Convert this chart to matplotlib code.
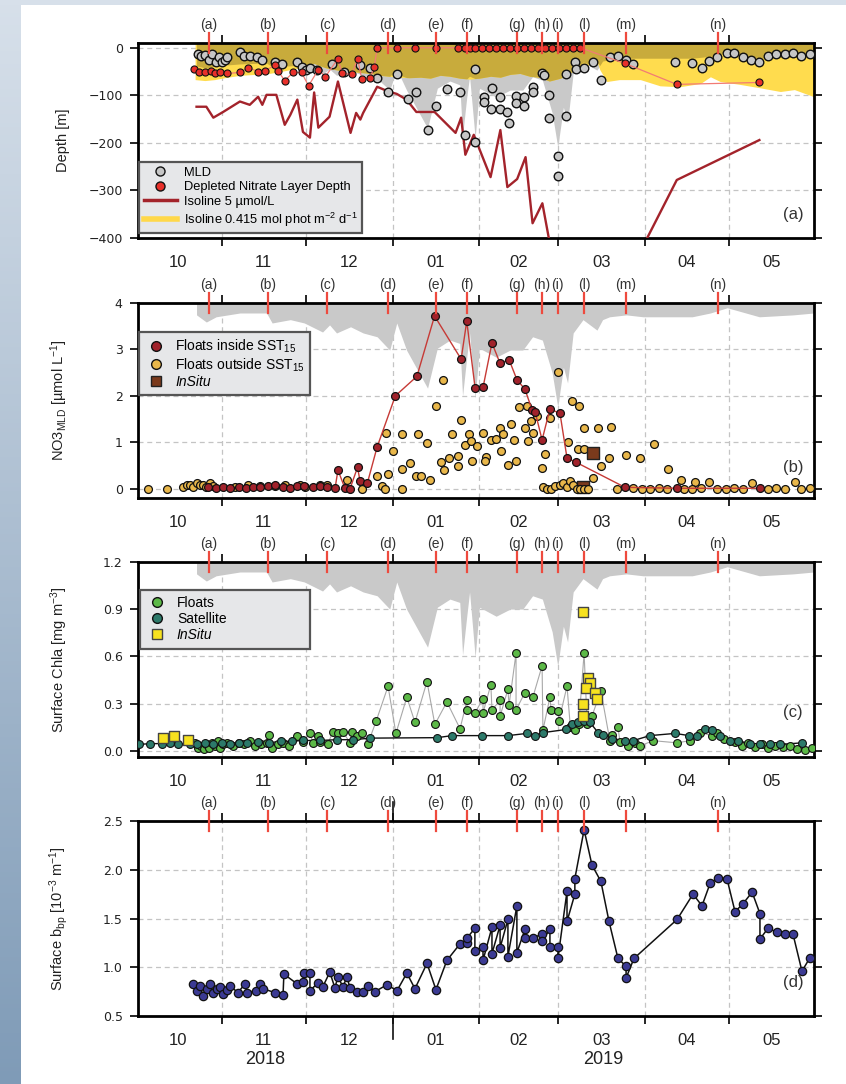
import numpy as np
import matplotlib
matplotlib.use('Agg')
import matplotlib.pyplot as plt
import matplotlib.dates as mdates
from matplotlib.lines import Line2D
from matplotlib.colors import LinearSegmentedColormap
import datetime as dt

BASE = dt.datetime(2018, 10, 1)
B0 = mdates.date2num(BASE)

def X(days):
    return B0 + np.asarray(days, dtype=float)

# ---------------- events ----------------
event_labels = ['(a)', '(b)', '(c)', '(d)', '(e)', '(f)', '(g)', '(h)', '(i)', '(l)', '(m)', '(n)']
event_days = [26.4, 47.5, 68.6, 90.4, 107.5, 118.6, 136.4, 145.4, 151, 160.4, 175.4, 208.2]

month_labels = ['10', '11', '12', '01', '02', '03', '04', '05']
year_labels = ['2018', '2019']

# ---------------- MLD envelope (grey shading) ----------------
env_day = [22, 25.5, 29, 37.5, 47, 49, 55.5, 60.5, 67, 69.5, 72, 77, 81.5, 86.5, 91, 93.5, 97,
           104.5, 108, 112.5, 116, 117, 118.5, 119.5, 121.5, 123, 129, 134, 138.5, 142, 145.5,
           149, 151, 153, 154.5, 156.5, 160, 165, 167, 169.5, 175.5, 181.5, 199, 205.5, 211.5,
           223, 235, 242.5]
env_depth = [-15, -30, -19, -11, -11, -32, -25, -32, -51, -36, -53, -40, -53, -61, -89, -32, -89,
             -169, -85, -68, -75, -185, -104, -53, -190, -85, -104, -89, -89, -61, -68,
             -137, -209, -125, -158, -53, -25, -47, -25, -19, -15, -19, -19, -11, 0,
             -19, -15, -11]
# grey shading as drawn in panel (a)
env_a_depth = [-38, -43, -38, -34, -32, -40, -38, -36, -55, -45, -58, -48, -58, -65, -89, -45, -89,
               -169, -85, -70, -78, -185, -104, -60, -190, -85, -104, -89, -89, -61, -68,
               -137, -209, -125, -158, -53, -30, -47, -28, -25, -22, -22, -22, -18, -10,
               -22, -20, -18]

# ---------------- panel (a) ----------------
isolume_day = [21.5, 25, 28.5, 32, 37.5, 43, 48, 52, 55.5, 59, 60.5, 64, 68, 71.5, 75, 80.5, 84,
               87.5, 91, 94.5, 98, 102, 105.5, 109, 112.5, 116, 119.5, 123, 127, 130.5, 134,
               137.5, 141, 144.5, 148, 152, 155.5, 159, 162.5, 164.5, 166, 168.5, 173, 180.5,
               187.5, 194.5, 202, 205.5, 209, 216, 223, 230.5, 235.5, 242.5]
isolume_depth = [-67, -69, -67, -63, -58, -56, -54, -50, -46, -42, -37, -33, -42, -46, -50, -52, -54,
                 -58, -60, -62, -63, -62, -64, -58, -60, -64, -66, -64, -60, -62, -56,
                 -54, -60, -62, -70, -64, -52, -42, -35, -20, -46, -71, -67, -67,
                 -80, -82, -75, -61, -71, -77, -84, -92, -88, -103]

mld_day = [22.5, 23.5, 25, 26.5, 27.5, 29, 30, 31, 32, 33, 37.5, 39, 41, 43.5, 45.5, 50, 52.5,
           58, 59.5, 61, 62.5, 65, 70.5, 74.5, 80.5, 84, 86.5, 90.5, 93.5, 97.5, 100.5, 104.5,
           107.5, 111.5, 116, 118, 121.5, 121.5, 124.5, 124.5, 127, 127.5, 130.5, 130.5, 133,
           133.5, 136, 136, 139, 139, 142, 142, 145.5, 146, 148, 148, 151, 151, 154, 154, 157,
           157.5, 160.5, 163.5, 166.5, 169.5, 172.5, 175.5, 178, 193, 199, 202.5, 205, 208,
           211.5, 214, 217, 220, 223, 226, 229, 232, 235, 238, 241]
mld_depth = [-14, -18, -16, -25, -14, -29, -20, -29, -25, -20, -8, -18, -18, -20, -25, -29, -35,
             -31, -40, -46, -42, -46, -35, -50, -37, -42, -63, -92, -56, -107, -94, -173,
             -122, -86, -92, -183, -44, -198, -103, -113, -128, -84, -103, -128, -135,
             -158, -101, -116, -103, -122, -82, -92, -54, -58, -99, -147, -227, -270, -143, -56, -31,
             -44, -42, -31, -67, -20, -18, -25, -35, -31, -33, -42, -27, -20,
             -10, -12, -20, -25, -29, -18, -14, -14, -12, -18, -14]

nit_day = [21, 23, 25, 27, 28.5, 30.5, 33, 37.5, 40.5, 44, 46.5, 50, 51, 53.5, 56.5, 59.5, 62,
           65.5, 68, 72.5, 74, 77.5, 79.5, 81, 84, 85.5, 86.5, 93.5, 100, 107.5, 115.5, 118,
           119.5, 121.5, 124, 126.5, 129, 131.5, 134, 136.5, 139, 141.5, 144, 146.5, 149,
           151.5, 154, 156.5, 159, 175, 193.5, 223]
nit_depth = [-44, -50, -52, -48, -54, -50, -54, -52, -42, -50, -48, -37, -48, -69, -52, -52, -80,
             -46, -61, -23, -54, -56, -23, -65, -63, -40, 0, 0, 0, 0, 0, 0,
             0, 0, 0, 0, 0, 0, 0, 0, 0, 0, 0, 0, 0,
             0, 0, 0, 0, -33, -77, -73]

iso5_day = [22, 25.5, 28, 31.5, 37.5, 41, 44, 45.5, 47, 50.5, 53.5, 55.5, 58, 60, 62.5, 64, 65.5,
            69.5, 72.5, 77, 79, 80.5, 81.5, 86.5, 90.5, 93.5, 97, 100.5, 107, 114.5, 116.5, 118,
            121, 127, 130.5, 133, 136.5, 139.5, 142, 145.5, 150, 176, 193.5, 223]
iso5_depth = [-124, -124, -147, -135, -113, -120, -103, -120, -99, -99, -162, -141, -109, -177,
              -189, -94, -168, -145, -71, -179, -137, -151, -137, -82, -92, -97, -109, -135,
              -135, -179, -147, -225, -183, -272, -173, -293, -276, -230, -369, -327, -470,
              -480, -278, -194]

# ---------------- panel (b) ----------------
in_day = [26, 29, 31.5, 34, 37, 39.5, 42, 44.5, 47.5, 50, 53, 55.5, 58, 60.5, 63.5, 66, 68.5,
          71.5, 72.5, 75, 76.8, 79.5, 80.4, 83, 86.5, 93, 100.7, 107, 116.5, 118.5, 121.5,
          124.3, 127.5, 130.4, 133.6, 136.4, 139.3, 141.8, 142.9, 145.4, 148.2, 151.8, 154.3,
          157.5, 175, 193.6, 223.2]
in_val = [0.03, 0.02, 0.03, 0.02, 0.03, 0.02, 0.04, 0.03, 0.05, 0.07, 0.03, 0.02, 0.05, 0.05,
          0.04, 0.05, 0.03, 0.02, 0.40, 0.01, 0.0, 0.46, 0.16, 0.12, 0.90, 2.0, 2.42, 3.72,
          2.79, 3.61, 2.16, 2.18, 3.14, 2.70, 2.78, 2.35, 2.14, 1.70, 1.66, 1.05, 1.72, 1.62,
          0.66, 0.57, 0.03, 0.01, 0.01]

out_day = [4.6, 11.4, 17.1, 18.6, 19.6, 20.7, 22.1, 23.2, 24.3, 25.4, 26.8, 27.9, 35.7, 40.4,
           44.6, 50, 53.6, 58.9, 60.7, 66.1, 68.6, 75.7, 81.1, 86.4, 88.2, 89.3, 90.4, 92.1,
           89.6, 95.4, 95.4, 95.4, 98.2, 100.4, 102.1, 101.1, 104.3, 105.4, 107.5, 110, 109.3,
           110.4, 112.1, 113.2, 115.4, 115.4, 116.4, 117.9, 119.3, 120, 122.1, 120.4, 124.3,
           125.4, 125, 127.1, 128.9, 130.4, 130.7, 131.4, 133.2, 134.3, 135.4, 136.1, 139.3,
           140.4, 141.4, 142.1, 137.1, 140, 143.6, 146.4, 145.4, 148.2, 151.1, 156.1, 158.6,
           145.7, 147.1, 148.6, 150, 151.8, 152.9, 154.3, 155.4, 156.4, 157.9, 158.9, 160.4,
           161.8, 163.6, 160.4, 165.4, 170, 154.6, 158.2, 160.4, 166.4, 169.3, 175.4, 180.4,
           185.4, 190.4, 195, 200, 205, 220.4, 235.7,
           172, 178, 181, 184, 187, 190, 196, 199, 202, 208, 211, 214, 217, 226, 229, 232, 238, 241]
out_val = [0.0, 0.0, 0.03, 0.07, 0.09, 0.03, 0.12, 0.07, 0.09, 0.03, 0.12, 0.05, 0.03, 0.07,
           0.05, 0.05, 0.07, 0.07, 0.03, 0.07, 0.07, 0.18, 0.0, 0.27, 0.05, 0.0, 0.31, 0.81,
           1.20, 0.0, 0.42, 1.18, 0.55, 0.27, 0.27, 1.18, 0.98, 0.18, 1.79, 2.35, 0.57,
           0.40, 0.66, 1.18, 0.48, 0.70, 1.49, 0.94, 1.18, 1.03, 0.92, 0.59, 1.20,
           0.68, 0.59, 1.05, 1.07, 1.31, 0.81, 1.18, 0.51, 1.40, 1.05, 0.59, 1.31,
           1.03, 1.46, 1.20, 1.75, 1.79, 1.57, 0.75, 0.44, 1.53, 2.51, 1.88, 1.79,
           0.03, 0.0, 0.0, 0.05, 0.09, 0.12, 0.03, 0.16, 0.09, 0.0, 0.0, 0.0,
           0.0, 0.22, 1.31, 1.31, 1.33, 1.01, 0.86, 0.86, 0.48, 0.66, 0.72, 0.66,
           0.96, 0.42, 0.18, 0.14, 0.14, 0.12, 0.14,
           0.0, 0.01, 0.0, 0.0, 0.01, 0.0, 0.0, 0.0, 0.01, 0.0, 0.0, 0.01, 0.0, 0.0, 0.01, 0.0, 0.0, 0.01]

insitu_b_day = [160, 163.6]
insitu_b_val = [0.03, 0.77]

# ---------------- panel (c) ----------------
sat_day = [1.5, 5.4, 9.6, 12.5, 15.4, 19.6, 22, 25, 28, 31, 34, 37, 40, 44, 48, 52, 56, 60, 66,
           72, 78, 84, 108, 113.2, 124, 133.2, 140, 142.9, 145.7, 154, 156, 158.2, 160.4,
           162.5, 165.4, 167.1, 170.4, 175, 177.9, 183.9, 192.9, 197.9, 200.7, 203.6, 206, 209,
           212.5, 215.4, 219.6, 223.2, 226.8, 230.4, 238.2]
sat_val = [0.04, 0.045, 0.045, 0.05, 0.045, 0.04, 0.045, 0.05, 0.04, 0.05, 0.045, 0.05, 0.05,
           0.055, 0.05, 0.06, 0.06, 0.065, 0.065, 0.07, 0.07, 0.08, 0.083, 0.096, 0.096, 0.096,
           0.11, 0.096, 0.115, 0.135, 0.17, 0.185, 0.19, 0.18, 0.115, 0.10, 0.077, 0.064,
           0.064, 0.096, 0.11, 0.096, 0.096, 0.14, 0.13, 0.096, 0.064, 0.064, 0.045, 0.045,
           0.045, 0.04, 0.05]

flt_day = [21.5, 22.5, 23.5, 24.5, 25.5, 26.5, 27.5, 28.5, 29.5, 30.5, 31.5, 33, 35, 37, 39, 41,
           43, 45, 47, 48, 49, 51, 53, 55, 57.9, 60, 62.5, 63.6, 65.4, 66, 68.9, 70.7, 72.5,
           74.3, 76.8, 77.5, 79.3, 81, 83.2, 86.1, 90.4, 93.2, 97.1, 100, 104.3, 107.1, 111.4,
           116.1, 118.6, 118.6, 121.4, 124.3, 124.3, 127.1, 127.5, 130.4, 130.4, 133.2, 133.6,
           136.1, 136.1, 139.3, 142.1, 145.4, 145.7, 148.2, 148.6, 151.1, 151.4, 154.3, 155.5,
           157.1, 158.5, 160.4, 161.5, 163.2, 166.4, 169.6, 170.4, 172.5, 173.2, 176, 178.6,
           180.4, 185, 193.6, 198.2, 201.8, 206, 207.9, 210.4, 214.3, 216.8, 218.9, 221.4,
           223.9, 226, 228.6, 231.4, 233.9, 236.4, 239.3, 241.8]
flt_val = [0.05, 0.02, 0.03, 0.01, 0.04, 0.02, 0.05, 0.03, 0.06, 0.02, 0.04, 0.05, 0.03, 0.05,
           0.04, 0.06, 0.03, 0.04, 0.05, 0.10, 0.02, 0.04, 0.05, 0.03, 0.096, 0.058, 0.11, 0.05,
           0.096, 0.058, 0.045, 0.12, 0.11, 0.12, 0.05, 0.12, 0.096, 0.115, 0.045, 0.186,
           0.41, 0.11, 0.34, 0.18, 0.44, 0.167, 0.31, 0.14, 0.32, 0.26, 0.24, 0.33, 0.24,
           0.42, 0.26, 0.32, 0.22, 0.39, 0.29, 0.62, 0.26, 0.37, 0.34, 0.54, 0.13, 0.34, 0.26,
           0.25, 0.19, 0.41, 0.15, 0.13, 0.17, 0.62, 0.17, 0.22, 0.38, 0.064, 0.10, 0.15,
           0.058, 0.03, 0.05, 0.03, 0.064, 0.05, 0.064, 0.115, 0.096, 0.11, 0.077, 0.058,
           0.032, 0.05, 0.026, 0.045, 0.02, 0.032, 0.026, 0.032, 0.013, 0.006, 0.02]

insitu_c_day = [10, 13.9, 18.9, 160, 161.8, 162.5, 161, 164.3, 165, 160, 160]
insitu_c_val = [0.083, 0.096, 0.07, 0.88, 0.46, 0.43, 0.40, 0.37, 0.33, 0.30, 0.22]

# ---------------- panel (d) ----------------
bbp_day = [20.7, 22.1, 23.2, 24.3, 25.7, 26.8, 27.9, 29.3, 30.4, 31.4, 32.9, 33.9, 36.8, 39.3,
           40, 43.2, 44.6, 45.7, 50, 52.9, 53.2, 57.9, 60, 60.4, 62.5, 62.5, 65.4, 67.1, 69.6,
           71.4, 72.5, 74.3, 75.7, 76.8, 79.3, 81.4, 83.2, 85.7, 90, 93.6, 97.1, 100, 104.3,
           107.5, 111.4, 116.1, 118.6, 118.6, 121.4, 121.4, 124.3, 124.3, 127.5, 127.5, 130.4,
           130.4, 133.2, 133.2, 136.4, 136.4, 139.3, 139.3, 142.1, 145.4, 145.4, 148.2, 148.2,
           151.1, 151.1, 154.3, 154.3, 157.1, 157.1, 160.4, 163.2, 166.4, 169.3, 172.5, 175.4,
           175.4, 178.2, 193.6, 199.3, 202.5, 205.4, 208.2, 211.4, 214.3, 217.1, 220.4, 223.2,
           223.2, 226.1, 229.3, 232.1, 235, 238.2, 241.1]
bbp_val = [0.83, 0.76, 0.81, 0.71, 0.78, 0.83, 0.74, 0.78, 0.80, 0.73, 0.77, 0.81, 0.74, 0.83,
           0.74, 0.76, 0.83, 0.78, 0.74, 0.72, 0.93, 0.83, 0.85, 0.94, 0.94, 0.76, 0.84, 0.80,
           0.95, 0.79, 0.90, 0.80, 0.90, 0.79, 0.75, 0.75, 0.81, 0.75, 0.82, 0.76, 0.94, 0.78,
           1.04, 0.77, 1.07, 1.24, 1.25, 1.30, 1.40, 1.17, 1.21, 1.07, 1.41, 1.14, 1.43,
           1.20, 1.49, 1.11, 1.63, 1.15, 1.39, 1.30, 1.30, 1.34, 1.27, 1.39, 1.21,
           1.21, 1.10, 1.78, 1.47, 1.75, 1.91, 2.41, 2.05, 1.88, 1.47, 1.09, 1.01,
           0.89, 1.09, 1.49, 1.75, 1.63, 1.86, 1.92, 1.91, 1.57, 1.65, 1.77, 1.55,
           1.29, 1.40, 1.36, 1.34, 1.34, 0.96, 1.10]

# ---------------- styling ----------------
TXT = '#333333'
GRAY_FILL = '#c9c9c9'
YELLOW = '#ffdc4e'
OLIVE = '#c8ab3c'
plt.rcParams['font.family'] = ['Liberation Sans', 'DejaVu Sans']
plt.rcParams['mathtext.fontset'] = 'custom'
plt.rcParams['mathtext.rm'] = 'Liberation Sans'
plt.rcParams['mathtext.it'] = 'Liberation Sans:italic'

W, H = 846, 1084
fig = plt.figure(figsize=(W / 100, H / 100), dpi=100)

# background decorations (screenshot frame)
bg = fig.add_axes([0, 0, 20 / W, 1])
grad = np.linspace(0, 1, 256).reshape(-1, 1)
cm = LinearSegmentedColormap.from_list('bg', ['#d7e0ea', '#7f9bb7'])
bg.imshow(grad, aspect='auto', cmap=cm, extent=[0, 1, 0, 1], origin='upper')
bg.axis('off')
topb = fig.add_axes([0, 1 - 5 / H, 1, 5 / H])
topb.set_facecolor('#d7e0ea')
topb.set_xticks([]); topb.set_yticks([])
for s in topb.spines.values():
    s.set_visible(False)

left = 138 / W
width = 676 / W
tops = [43, 303, 562, 821]
hpx = 195
axes = []
for t in tops:
    axes.append(fig.add_axes([left, 1 - (t + hpx) / H, width, hpx / H]))

xlim = (B0 + 1.1, B0 + 242.5)
month_starts = [dt.datetime(2018, m, 1) for m in (10, 11, 12)] + [dt.datetime(2019, m, 1) for m in (1, 2, 3, 4, 5, 6)]
ms_num = [mdates.date2num(d) for d in month_starts]
mid_num = [(a + b) / 2 for a, b in zip(ms_num[:-1], ms_num[1:])]


def style_axis(ax, ylim, yticks, ylabels, panel, panel_y):
    ax.set_xlim(*xlim)
    ax.set_ylim(*ylim)
    ax.set_axisbelow(True)
    ax.set_xticks(ms_num[1:-1])
    ax.set_xticklabels([])
    ax.set_xticks(mid_num, minor=True)
    ax.set_xticklabels(month_labels, minor=True, fontsize=12, color='#222222')
    ax.tick_params(axis='x', which='major', direction='out', length=6, width=1.2,
                   top=True, bottom=True)
    ax.tick_params(axis='x', which='minor', length=0, pad=12)
    ax.set_yticks(yticks)
    ax.set_yticklabels(ylabels, fontsize=9, family='DejaVu Sans', color='#222222')
    ax.tick_params(axis='y', direction='out', length=6, width=1.2, left=True, right=True, pad=5)
    ax.grid(True, which='major', ls=(0, (4, 3)), color='#c4c4c4', lw=0.9)
    for s in ax.spines.values():
        s.set_linewidth(2.0)
    # event markers
    for lab, d in zip(event_labels, event_days):
        ax.plot([X(d), X(d)], [1 + 10 / hpx, 1 - 10 / hpx], color='#ee4a3e', lw=1.6,
                transform=ax.get_xaxis_transform(), clip_on=False, zorder=10)
        ax.text(X(d), 1 + 18 / hpx, lab, transform=ax.get_xaxis_transform(), ha='center',
                va='center', fontsize=10, color=TXT)
    ax.text(0.969, panel_y, panel, transform=ax.transAxes, ha='center', va='center',
            fontsize=12, color=TXT)


def env_frac(depths):
    return (10.0 - np.asarray(depths, dtype=float)) / 410.0


def style_legend(lg):
    lg.get_frame().set_facecolor('#e6e7e9')
    lg.get_frame().set_edgecolor('#555555')
    lg.get_frame().set_linewidth(1.6)
    lg.set_zorder(20)


# ---- panel (a)
ax = axes[0]
xe = np.union1d(np.asarray(env_day, float), np.asarray(isolume_day, float))
xe = xe[(xe >= max(env_day[0], isolume_day[0]))]
ge = np.interp(xe, env_day, env_a_depth)
ie = np.interp(xe, isolume_day, isolume_depth)
ax.fill_between(X(env_day), 10, env_a_depth, color=GRAY_FILL, lw=0, zorder=1)
ax.fill_between(X(isolume_day), 10, isolume_depth, color=YELLOW, lw=0, zorder=1.1)
ax.fill_between(X(xe), 10, np.maximum(ge, ie), color=OLIVE, lw=0, zorder=1.2)
ax.plot(X(iso5_day), iso5_depth, color='#a3232b', lw=1.7, zorder=3)
ax.scatter(X(mld_day), mld_depth, s=38, facecolor='#c6c6c6', edgecolor='#111111', lw=1.0, zorder=4)
ax.plot(X(nit_day), nit_depth, color='#f27b74', lw=0.9, zorder=4.5)
ax.scatter(X(nit_day), nit_depth, s=26, facecolor='#e8302a', edgecolor='#111111', lw=0.8, zorder=5)
style_axis(ax, (-400, 10), [0, -100, -200, -300, -400],
           ['0', '\u2212100', '\u2212200', '\u2212300', '\u2212400'], '(a)', 0.118)
ax.set_ylabel('Depth [m]', fontsize=10.5, color='#222222')
h = [Line2D([], [], marker='o', ls='none', mfc='#c6c6c6', mec='#111111', ms=6.5),
     Line2D([], [], marker='o', ls='none', mfc='#e8302a', mec='#111111', ms=6.5),
     Line2D([], [], color='#a3232b', lw=2.5),
     Line2D([], [], color='#ffd84a', lw=4)]
lg = ax.legend(h, ['MLD', 'Depleted Nitrate Layer Depth', 'Isoline 5 \u00b5mol/L',
                   'Isoline 0.415 mol phot m$^{-2}$ d$^{-1}$'],
               loc='lower left', bbox_to_anchor=(0.0015, 0.025), borderaxespad=0,
               fontsize=9.3, frameon=True, fancybox=False, framealpha=1, handlelength=2.6,
               labelspacing=0.2, borderpad=0.35, handletextpad=0.5)
style_legend(lg)

# ---- panel (b)
ax = axes[1]
fb = 4.0 - env_frac(env_depth) * 4.2
ax.fill_between(X(env_day), 4.2, fb, color=GRAY_FILL, lw=0, zorder=1)
ax.scatter(X(insitu_b_day[:1]), insitu_b_val[:1], s=70, marker='s', facecolor='#7b3a1c',
           edgecolor='#222222', lw=1.0, zorder=3)
ax.scatter(X(out_day), out_val, s=32, facecolor='#e9b74a', edgecolor='#111111', lw=0.9, zorder=4)
ax.plot(X(in_day), in_val, color='#c63a36', lw=1.0, zorder=5)
ax.scatter(X(in_day), in_val, s=32, facecolor='#a1222b', edgecolor='#111111', lw=0.9, zorder=6)
ax.scatter(X(insitu_b_day[1:]), insitu_b_val[1:], s=85, marker='s', facecolor='#7b3a1c',
           edgecolor='#222222', lw=1.0, zorder=7)
style_axis(ax, (-0.2, 4.0), [0, 1, 2, 3, 4], ['0', '1', '2', '3', '4'], '(b)', 0.154)
ax.set_ylabel('NO3$_{\\mathrm{MLD}}$ [\u00b5mol L$^{-1}$]', fontsize=10.5, color='#222222')
h = [Line2D([], [], marker='o', ls='none', mfc='#a1222b', mec='#111111', ms=7),
     Line2D([], [], marker='o', ls='none', mfc='#e9b74a', mec='#111111', ms=7),
     Line2D([], [], marker='s', ls='none', mfc='#7b3a1c', mec='#222222', ms=7)]
lg = ax.legend(h, ['Floats inside SST$_{15}$', 'Floats outside SST$_{15}$', 'InSitu'],
               loc='upper left', bbox_to_anchor=(0.0015, 0.852), borderaxespad=0,
               fontsize=10, frameon=True, fancybox=False, framealpha=1,
               labelspacing=0.1, borderpad=0.4, handletextpad=0.6, handlelength=1.6)
lg.get_texts()[2].set_style('italic')
style_legend(lg)

# ---- panel (c)
ax = axes[2]
fc = 1.2 - env_frac(env_depth) * 1.24
ax.fill_between(X(env_day), 1.25, fc, color=GRAY_FILL, lw=0, zorder=1)
ax.plot(X(flt_day), flt_val, color='#a8a8a8', lw=0.8, zorder=2)
ax.plot(X(sat_day), sat_val, color='#111111', lw=1.0, zorder=3)
ax.scatter(X(flt_day), flt_val, s=32, facecolor='#5cb947', edgecolor='#111111', lw=0.8, zorder=4)
ax.scatter(X(sat_day), sat_val, s=32, facecolor='#2c7a6a', edgecolor='#111111', lw=0.8, zorder=5)
ax.scatter(X(insitu_c_day), insitu_c_val, s=58, marker='s', facecolor='#f7e21f',
           edgecolor='#444444', lw=1.0, zorder=6)
style_axis(ax, (-0.04, 1.2), [0.0, 0.3, 0.6, 0.9, 1.2], ['0.0', '0.3', '0.6', '0.9', '1.2'], '(c)', 0.23)
ax.set_ylabel('Surface Chla [mg m$^{-3}$]', fontsize=10.5, color='#222222')
h = [Line2D([], [], marker='o', ls='none', mfc='#5cb947', mec='#111111', ms=7),
     Line2D([], [], marker='o', ls='none', mfc='#2c7a6a', mec='#111111', ms=7),
     Line2D([], [], marker='s', ls='none', mfc='#f7e21f', mec='#444444', ms=7)]
lg = ax.legend(h, ['Floats', 'Satellite', 'InSitu'],
               loc='upper left', bbox_to_anchor=(0.003, 0.847, 0.2515, 0.01), mode='expand',
               borderaxespad=0, fontsize=10, frameon=True, fancybox=False, framealpha=1,
               labelspacing=0.15, borderpad=0.45, handletextpad=0.6, handlelength=1.6)
lg.get_texts()[2].set_style('italic')
style_legend(lg)

# ---- panel (d)
ax = axes[3]
ax.plot(X(bbp_day), bbp_val, color='#111111', lw=1.1, zorder=3)
ax.scatter(X(bbp_day), bbp_val, s=36, facecolor='#3b3a93', edgecolor='#111111', lw=0.9, zorder=4)
style_axis(ax, (0.5, 2.5), [0.5, 1.0, 1.5, 2.0, 2.5], ['0.5', '1.0', '1.5', '2.0', '2.5'], '(d)', 0.17)
ax.set_ylabel('Surface b$_{\\mathrm{bp}}$ [10$^{-3}$ m$^{-1}$]', fontsize=10.5, color='#222222')
jan1 = mdates.date2num(dt.datetime(2019, 1, 1))
ax.plot([jan1, jan1], [-0.12, 0.0], color='#111111', lw=1.2, transform=ax.get_xaxis_transform(), clip_on=False)
ax.plot([jan1, jan1], [1.0, 1.1], color='#111111', lw=1.2, transform=ax.get_xaxis_transform(), clip_on=False)
ax.text((xlim[0] + jan1) / 2, -0.222, year_labels[0], transform=ax.get_xaxis_transform(),
        ha='center', va='center', fontsize=13, color='#222222')
ax.text((jan1 + xlim[1]) / 2, -0.222, year_labels[1], transform=ax.get_xaxis_transform(),
        ha='center', va='center', fontsize=13, color='#222222')

for ax in axes:
    ax.yaxis.set_label_coords(-0.10, 0.5)

fig.savefig('out.png', dpi=100)
